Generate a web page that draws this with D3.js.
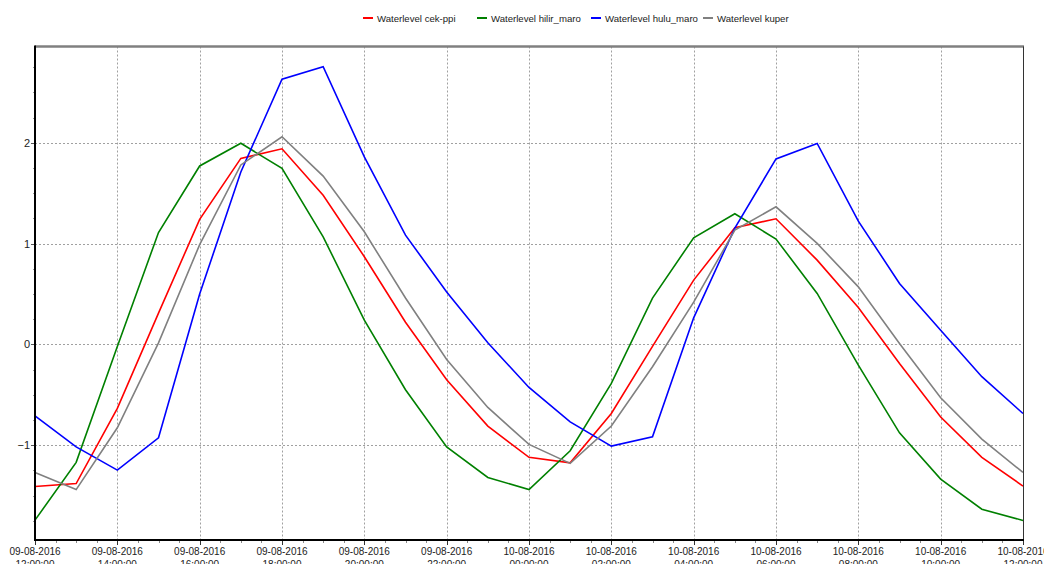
<!DOCTYPE html>
<html><head><meta charset="utf-8">
<script src="https://cdn.jsdelivr.net/npm/d3@7"></script>
<style>
body{margin:0;background:#fff;overflow:hidden}
svg{display:block}
text{font-family:"Liberation Sans",Arial,sans-serif;fill:#222}
</style>
</head><body>
<svg id="chart" width="1044" height="564"></svg>
<script>
// ---------- data ----------
const timestamps = [
  "2016-08-09 12:00","2016-08-09 13:00","2016-08-09 14:00","2016-08-09 15:00","2016-08-09 16:00",
  "2016-08-09 17:00","2016-08-09 18:00","2016-08-09 19:00","2016-08-09 20:00","2016-08-09 21:00",
  "2016-08-09 22:00","2016-08-09 23:00","2016-08-10 00:00","2016-08-10 01:00","2016-08-10 02:00",
  "2016-08-10 03:00","2016-08-10 04:00","2016-08-10 05:00","2016-08-10 06:00","2016-08-10 07:00",
  "2016-08-10 08:00","2016-08-10 09:00","2016-08-10 10:00","2016-08-10 11:00","2016-08-10 12:00"
];
const seriesNames = ["Waterlevel cek-ppi","Waterlevel hilir_maro","Waterlevel hulu_maro","Waterlevel kuper"];
const cekPpi = [-1.41,-1.38,-0.635,0.31,1.24,1.845,1.94,1.48,0.87,0.22,-0.35,-0.81,-1.12,-1.175,-0.685,-0.02,0.638,1.157,1.246,0.836,0.367,-0.19,-0.72,-1.12,-1.405];
const hilirMaro = [-1.743,-1.17,-0.02,1.11,1.77,1.995,1.746,1.067,0.24,-0.45,-1.016,-1.32,-1.44,-1.055,-0.387,0.46,1.058,1.296,1.045,0.506,-0.205,-0.877,-1.336,-1.634,-1.746];
const huluMaro = [-0.708,-1.016,-1.247,-0.926,0.5,1.71,2.63,2.754,1.86,1.084,0.52,0.016,-0.427,-0.768,-1.009,-0.917,0.264,1.154,1.84,1.994,1.223,0.605,0.14,-0.32,-0.685];
const kuper = [-1.27,-1.44,-0.827,0.016,0.99,1.78,2.06,1.67,1.117,0.46,-0.149,-0.625,-0.992,-1.18,-0.81,-0.222,0.42,1.134,1.365,1.002,0.571,0.01,-0.53,-0.94,-1.27];
const seriesColors = ["#ff0000","#008000","#0000ff","#808080"];
const xTickTimes = [
  "2016-08-09 12:00","2016-08-09 14:00","2016-08-09 16:00","2016-08-09 18:00","2016-08-09 20:00",
  "2016-08-09 22:00","2016-08-10 00:00","2016-08-10 02:00","2016-08-10 04:00","2016-08-10 06:00",
  "2016-08-10 08:00","2016-08-10 10:00","2016-08-10 12:00"
];
const yTickValues = [-1,0,1,2];
const yDomain = [-1.94, 2.955];

// ---------- layout ----------
const W = 1044, H = 564;
const margin = {left:35, right:21, top:46.5, bottom:24};
const legendX = [363, 477, 591, 703];
const legendY = 18;

const parse = d3.timeParse("%Y-%m-%d %H:%M");
const dates = timestamps.map(parse);
const tickDates = xTickTimes.map(parse);
const allSeries = [cekPpi, hilirMaro, huluMaro, kuper];

const svg = d3.select("#chart");
const x = d3.scaleTime().domain(d3.extent(dates)).range([margin.left, W - margin.right]);
const y = d3.scaleLinear().domain(yDomain).range([H - margin.bottom, margin.top]);

// gridlines
const grid = svg.append("g").attr("stroke","#a0a0a0").attr("stroke-width",1).attr("stroke-dasharray","2,2");
grid.selectAll("line.v").data(tickDates.slice(1,-1)).join("line")
  .attr("x1",d=>Math.round(x(d))+0.5).attr("x2",d=>Math.round(x(d))+0.5)
  .attr("y1",y.range()[1]).attr("y2",y.range()[0]);
grid.selectAll("line.h").data(yTickValues).join("line")
  .attr("x1",x.range()[0]).attr("x2",x.range()[1])
  .attr("y1",d=>Math.round(y(d))+0.5).attr("y2",d=>Math.round(y(d))+0.5);

// series lines
const line = d3.line().x((d,i)=>x(dates[i])).y(d=>y(d));
svg.append("g").selectAll("path").data(allSeries).join("path")
  .attr("d",line).attr("fill","none")
  .attr("stroke",(d,i)=>seriesColors[i]).attr("stroke-width",1.6)
  .attr("stroke-linejoin","miter");

// frame
svg.append("line").attr("x1",x.range()[0]).attr("x2",x.range()[1]+1)
  .attr("y1",y.range()[1]).attr("y2",y.range()[1]).attr("stroke","#808080").attr("stroke-width",2.5);
svg.append("line").attr("x1",x.range()[1]+0.5).attr("x2",x.range()[1]+0.5)
  .attr("y1",y.range()[1]).attr("y2",y.range()[0]).attr("stroke","#333").attr("stroke-width",1);

// x axis
const minorX = d3.timeMinute.every(30).range(x.domain()[0], d3.timeMinute.offset(x.domain()[1],1));
const xg = svg.append("g");
xg.selectAll("line.minor").data(minorX).join("line")
  .attr("x1",d=>Math.round(x(d))+0.5).attr("x2",d=>Math.round(x(d))+0.5)
  .attr("y1",y.range()[0]).attr("y2",y.range()[0]+3).attr("stroke","#888").attr("stroke-width",1);
xg.selectAll("line.major").data(tickDates).join("line")
  .attr("x1",d=>Math.round(x(d))+0.5).attr("x2",d=>Math.round(x(d))+0.5)
  .attr("y1",y.range()[0]).attr("y2",y.range()[0]+5).attr("stroke","#333").attr("stroke-width",1);
const fDate = d3.timeFormat("%d-%m-%Y"), fTime = d3.timeFormat("%H:%M:%S");
const xl = xg.selectAll("text").data(tickDates).join("text")
  .attr("x",d=>x(d)).attr("text-anchor","middle").attr("font-size","10px");
xl.append("tspan").attr("x",d=>x(d)).attr("y",y.range()[0]+15).text(d=>fDate(d));
xl.append("tspan").attr("x",d=>x(d)).attr("y",y.range()[0]+28).text(d=>fTime(d));
svg.append("line").attr("x1",x.range()[0]-1).attr("x2",x.range()[1]+1)
  .attr("y1",y.range()[0]).attr("y2",y.range()[0]).attr("stroke","#000").attr("stroke-width",2);

// y axis
const yg = svg.append("g");
const minorY = d3.range(-7,12).map(k=>k*0.25).filter(v=>v>=yDomain[0]&&v<=yDomain[1]&&!yTickValues.includes(v));
yg.selectAll("line.minor").data(minorY).join("line")
  .attr("x1",x.range()[0]-2).attr("x2",x.range()[0])
  .attr("y1",d=>Math.round(y(d))+0.5).attr("y2",d=>Math.round(y(d))+0.5)
  .attr("stroke","#999").attr("stroke-width",1);
yg.selectAll("line.major").data(yTickValues).join("line")
  .attr("x1",x.range()[0]-4).attr("x2",x.range()[0])
  .attr("y1",d=>Math.round(y(d))+0.5).attr("y2",d=>Math.round(y(d))+0.5)
  .attr("stroke","#555").attr("stroke-width",1);
yg.selectAll("text").data(yTickValues).join("text")
  .attr("x",x.range()[0]-5).attr("y",d=>y(d)+4).attr("text-anchor","end")
  .attr("font-size","11px").text(d=>d3.format("d")(d));
svg.append("line").attr("x1",x.range()[0]).attr("x2",x.range()[0])
  .attr("y1",y.range()[1]-1).attr("y2",y.range()[0]+1).attr("stroke","#000").attr("stroke-width",2);

// legend
const lg = svg.append("g");
seriesNames.forEach((name,i)=>{
  const g = lg.append("g").attr("transform",`translate(${legendX[i]},${legendY})`);
  g.append("line").attr("x1",0).attr("x2",10).attr("y1",0).attr("y2",0)
    .attr("stroke",seriesColors[i]).attr("stroke-width",2);
  g.append("text").attr("x",14).attr("y",3.5).attr("font-size","9.6px").text(name);
});
</script>
</body></html>
